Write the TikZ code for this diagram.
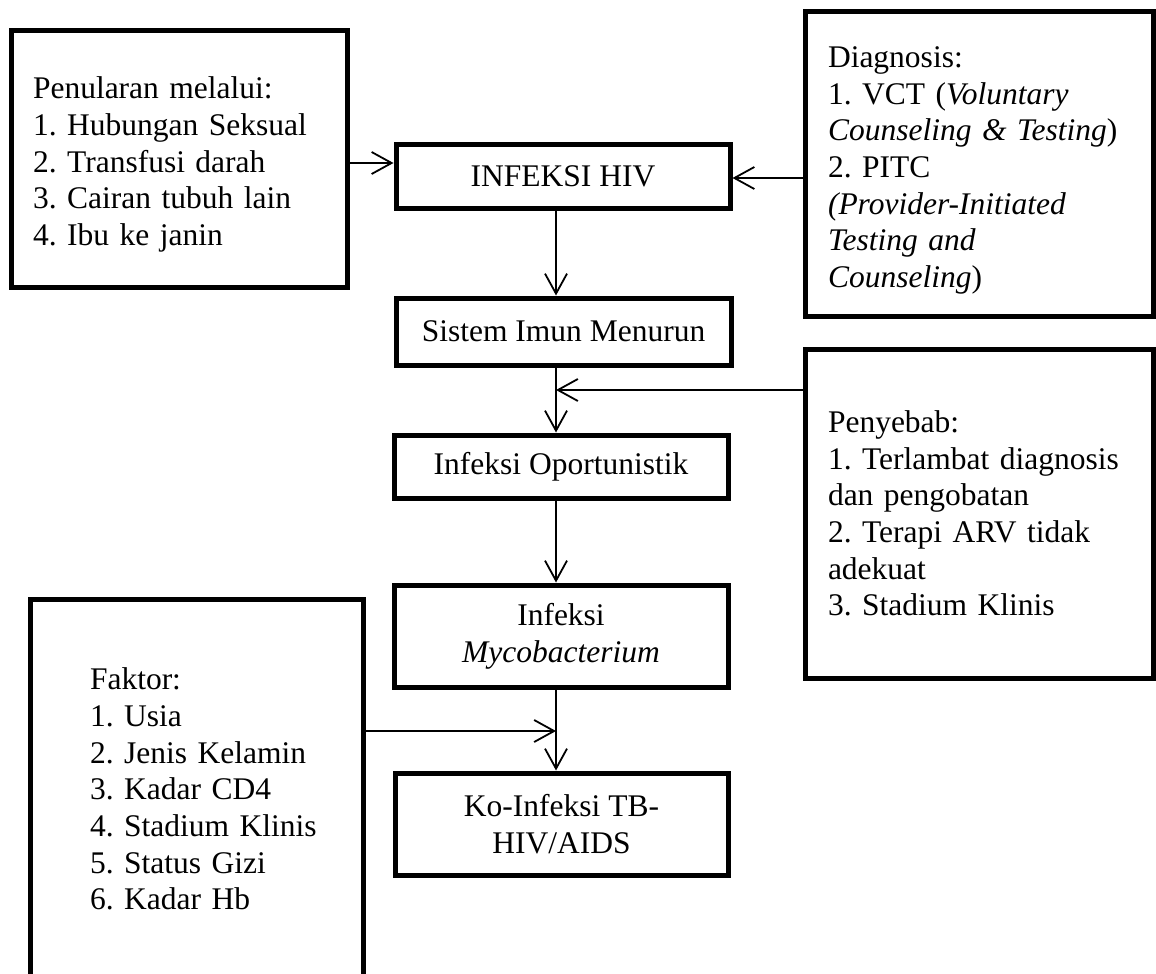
\documentclass[tikz,border=0pt]{standalone}
\usepackage{fontspec}
\setmainfont{Liberation Serif}
\usetikzlibrary{arrows.meta}
\frenchspacing
\begin{document}
\begin{tikzpicture}[x=1pt,y=-1pt,
  flowbox/.style={draw, line width=5pt, rectangle, inner sep=0pt, align=center,
    font=\fontsize{31.5}{36.7}\selectfont},
  listbox/.style={draw, line width=5pt, rectangle, inner ysep=0pt, align=left,
    font=\fontsize{31.5}{36.7}\selectfont\frenchspacing},
  arr/.style={line width=1.8pt, -{Straight Barb[length=20pt,width=22pt]}}]
\useasboundingbox (0,0) rectangle (1156,974);
\clip (0,0) rectangle (1156,974);

% list boxes
\node[listbox, minimum width=335.5pt, minimum height=256.5pt, text width=292.5pt, inner xsep=21.5pt, text depth=142pt]
  (pen) at (179.25,158.75) {Penularan melalui:\\1. Hubungan Seksual\\2. Transfusi darah\\3. Cairan tubuh lain\\4. Ibu ke janin};
\node[listbox, minimum width=348pt, minimum height=304pt, text width=302pt, inner xsep=23pt, text depth=214pt]
  (diag) at (979,164) {Diagnosis:\\1. VCT (\textit{Voluntary}\\\textit{Counseling \& Testing})\\2. PITC\\\textit{(Provider-Initiated}\\\textit{Testing and}\\\textit{Counseling})};
\node[listbox, minimum width=348pt, minimum height=329pt, text width=302pt, inner xsep=23pt]
  (peny) at (979,513.5) {Penyebab:\\1. Terlambat diagnosis\\dan pengobatan\\2. Terapi ARV tidak\\adekuat\\3. Stadium Klinis};
\node[listbox, minimum width=333pt, minimum height=380pt, text width=213pt, inner xsep=60pt]
  (fak) at (196.5,789) {Faktor:\\\mbox{1. Usia}\\\mbox{2. Jenis Kelamin}\\\mbox{3. Kadar CD4}\\\mbox{4. Stadium Klinis}\\\mbox{5. Status Gizi}\\\mbox{6. Kadar Hb}};

% flow boxes
\node[flowbox, minimum width=334pt, minimum height=64pt] (hiv) at (563,176) {INFEKSI HIV};
\node[flowbox, minimum width=335pt, minimum height=67pt] (imun) at (563.5,331.5) {Sistem Imun Menurun};
\node[flowbox, minimum width=334pt, minimum height=63pt] (opor) at (561,466.5) {Infeksi Oportunistik};
\node[flowbox, minimum width=334pt, minimum height=102pt] (myco) at (561,636) {Infeksi\\\textit{Mycobacterium}};
\node[flowbox, minimum width=333pt, minimum height=102pt] (ko) at (561.5,824) {Ko-Infeksi TB-\\HIV/AIDS};

% helper coordinates
\coordinate (vx) at (556,0);
\coordinate (y1) at (0,163);
\coordinate (y2) at (0,178);
\coordinate (j1) at (556,390);
\coordinate (j2) at (556,731);

% connectors
\draw[arr] (pen.east |- y1) -- (hiv.west |- y1);
\draw[arr] (diag.west |- y2) -- (hiv.east |- y2);
\draw[arr] (hiv.south -| vx) -- (imun.north -| vx);
\draw[arr] (imun.south -| vx) -- (opor.north -| vx);
\draw[arr] (peny.west |- j1) -- (j1);
\draw[arr] (opor.south -| vx) -- (myco.north -| vx);
\draw[arr] (myco.south -| vx) -- (ko.north -| vx);
\draw[arr] (fak.east |- j2) -- (j2);
\end{tikzpicture}
\end{document}
